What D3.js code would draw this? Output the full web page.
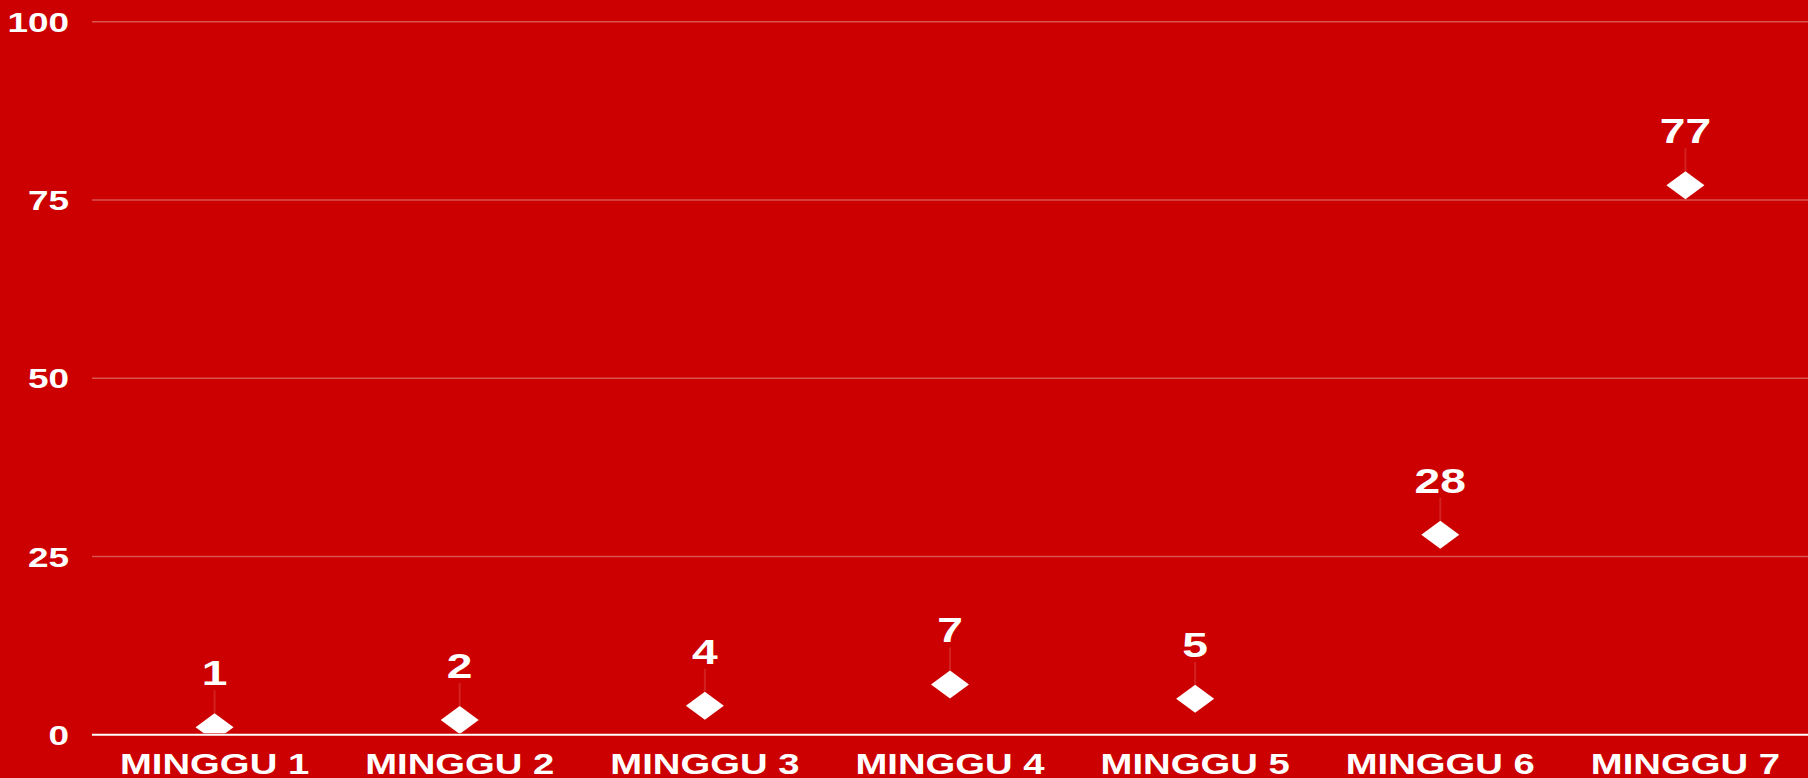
<!DOCTYPE html>
<html>
<head>
<meta charset="utf-8">
<script src="https://cdn.jsdelivr.net/npm/d3@7"></script>
<style>
  html, body { margin: 0; padding: 0; background: #cc0000; }
  svg { display: block; }
  text { font-family: "Liberation Sans", Arial, sans-serif; font-weight: bold; fill: #fff; }
</style>
</head>
<body>
<script>
const categories = ["MINGGU 1", "MINGGU 2", "MINGGU 3", "MINGGU 4", "MINGGU 5", "MINGGU 6", "MINGGU 7"];
const values = [1, 2, 4, 7, 5, 28, 77];
const yTicks = [0, 25, 50, 75, 100];

const width = 1808, height = 778;
// the reference is stretched sideways, so draw in narrower units and scale x
const SX = 1.32;
const innerW = width / SX;
const plotLeft = 92 / SX, plotTop = 21.3, plotBottom = 734.3;

const svg = d3.select("body").append("svg")
    .attr("width", width)
    .attr("height", height)

svg.append("rect")
    .attr("width", width)
    .attr("height", height)
    .attr("fill", "#cc0000")

const g = svg.append("g").attr("transform", `scale(${SX},1)`)

const x = d3.scaleBand().domain(categories).range([plotLeft, innerW]);
const y = d3.scaleLinear().domain([0, 100]).range([plotBottom, plotTop]);

// gridlines + y labels
const yAxis = g.append("g")
    .attr("transform", `translate(${plotLeft},0)`)
    .call(d3.axisLeft(y).tickValues(yTicks).tickSize(-(innerW - plotLeft)).tickPadding(23 / SX))
yAxis.select(".domain").remove()
yAxis.selectAll("line")
    .attr("stroke", d => d === 0 ? "#ffffff" : "rgba(255,255,255,0.32)")
    .attr("stroke-width", d => d === 0 ? 2 : 1.5)
yAxis.selectAll("text")
    .attr("fill", "#fff")
    .style("font-size", "28px")
    .attr("dy", "0.36em")

// x labels
const xAxis = g.append("g")
    .attr("transform", `translate(0,${plotBottom})`)
    .call(d3.axisBottom(x).tickSize(0).tickPadding(0))
xAxis.select(".domain").remove()
xAxis.selectAll("text")
    .attr("fill", "#fff")
    .attr("dy", null)
    .attr("y", 40)
    .style("font-size", "29px")

g.append("clipPath").attr("id", "plot")
    .append("rect")
    .attr("x", plotLeft).attr("y", 0)
    .attr("width", innerW - plotLeft).attr("height", plotBottom - 1)

const pts = g.append("g").attr("clip-path", "url(#plot)")
    .selectAll("g.pt")
    .data(values)
    .enter()
    .append("g")
    .attr("class", "pt")
    .attr("transform", (d, i) => `translate(${x(categories[i]) + x.bandwidth() / 2},${y(d)})`)

// stems
pts.append("line")
    .attr("x1", 0).attr("x2", 0)
    .attr("y1", -14).attr("y2", -37)
    .attr("stroke", "rgba(255,255,255,0.13)")
    .attr("stroke-width", 2 / SX)

// diamonds
pts.append("path")
    .attr("d", "M0,-14L14.4,0L0,14L-14.4,0Z")
    .attr("fill", "#fff")

// value labels
g.selectAll("text.val")
    .data(values)
    .enter()
    .append("text")
    .attr("class", "val")
    .attr("x", (d, i) => x(categories[i]) + x.bandwidth() / 2)
    .attr("y", d => y(d) - 42)
    .attr("text-anchor", "middle")
    .style("font-size", "35px")
    .text(d => d)
</script>
</body>
</html>
